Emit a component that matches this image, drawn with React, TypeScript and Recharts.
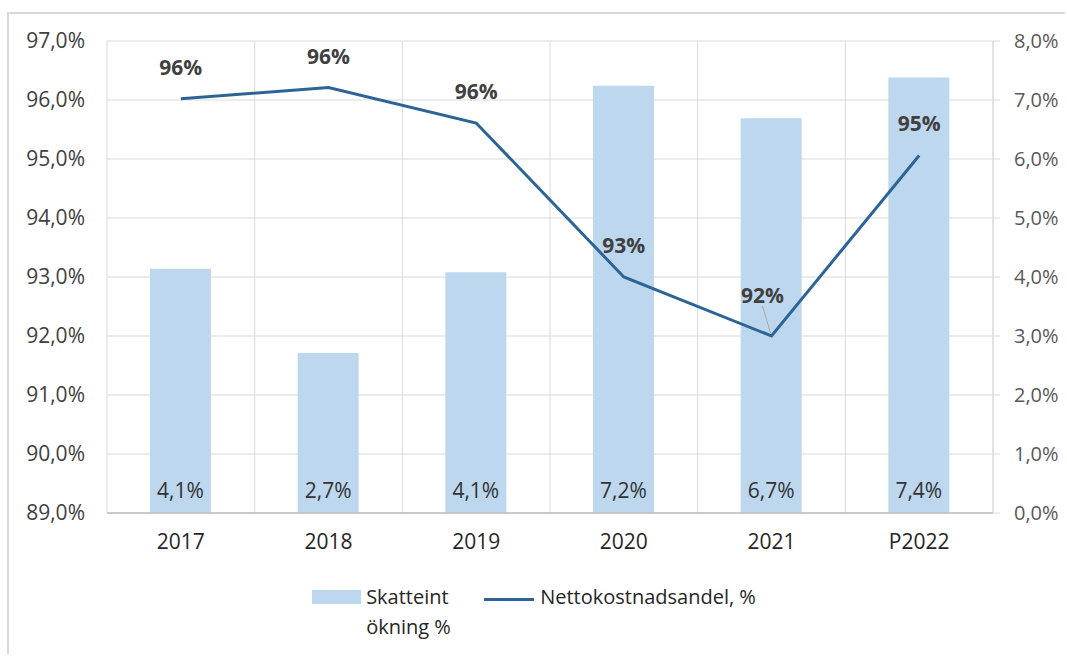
import React from "react";
import {
  ComposedChart,
  Bar,
  Line,
  XAxis,
  YAxis,
  CartesianGrid,
  Legend,
  LabelList,
} from "recharts";

const years = ["2017", "2018", "2019", "2020", "2021", "P2022"];
const skatteintOkning = [4.14, 2.71, 4.08, 7.24, 6.69, 7.38];
const nettokostnadsandel = [96.02, 96.21, 95.61, 93.0, 92.0, 95.06];
const leftTicks = [89, 90, 91, 92, 93, 94, 95, 96, 97];
const rightTicks = [0, 1, 2, 3, 4, 5, 6, 7, 8];

const data = years.map((year, i) => ({
  year,
  skatt: skatteintOkning[i],
  netto: nettokostnadsandel[i],
}));

const FONT = "'Open Sans', sans-serif";
const BAR_COLOR = "#BDD7EE";
const LINE_COLOR = "#2C6497";
const GRID = "#d9d9d9";

const pct1 = (v: number) => v.toFixed(1).replace(".", ",") + "%";

// label above each line point; the 2021 one sits as a callout with a leader line
const LineLabel = (props: any) => {
  const { x, y, value, index } = props;
  const callout = index === 4;
  const dx = callout ? -9 : 0;
  const dy = callout ? -33 : -24;
  return (
    <g>
      {callout && (
        <line x1={x - 9} y1={y - 30} x2={x - 1} y2={y - 3} stroke="#a6a6a6" strokeWidth={1} />
      )}
      <text
        x={x + dx}
        y={y + dy}
        textAnchor="middle"
        fontFamily={FONT}
        fontSize={21}
        fontWeight={700}
        fill="#404040"
      >
        {Math.round(value) + "%"}
      </text>
    </g>
  );
};

const LegendContent = () => (
  <div
    style={{
      display: "flex",
      justifyContent: "center",
      alignItems: "flex-start",
      fontFamily: FONT,
      fontSize: 20,
      color: "#262626",
    }}
  >
    <div style={{ display: "flex", alignItems: "flex-start" }}>
      <div style={{ width: 49, height: 14, background: BAR_COLOR, marginTop: 5 }} />
      <div style={{ width: 118, marginLeft: 5, lineHeight: "30px", marginTop: -3 }}>
        Skatteint
        <br />
        ökning %
      </div>
    </div>
    <div style={{ display: "flex", alignItems: "flex-start" }}>
      <div style={{ width: 50, height: 3, background: LINE_COLOR, marginTop: 13 }} />
      <div style={{ marginLeft: 6, lineHeight: "30px", marginTop: -3 }}>Nettokostnadsandel, %</div>
    </div>
  </div>
);

export default function App() {
  return (
    <div
      style={{
        position: "absolute",
        left: 7,
        top: 12,
        width: 1056,
        height: 640,
        borderLeft: `2px solid ${GRID}`,
        borderTop: `2px solid ${GRID}`,
        background: "#fff",
      }}
    >
      <ComposedChart
        width={1056}
        height={640}
        data={data}
        margin={{ top: 27, right: 6, left: 0, bottom: 9 }}
      >
        <CartesianGrid
          yAxisId="left"
          stroke={GRID}
          strokeWidth={1}
          verticalCoordinatesGenerator={({ offset }: any) =>
            Array.from({ length: years.length + 1 }, (_, i) => offset.left + (i * offset.width) / years.length)
          }
        />
        <XAxis
          dataKey="year"
          axisLine={{ stroke: "#bfbfbf", strokeWidth: 1.5 }}
          tickLine={false}
          tickSize={0}
          tickMargin={21}
          height={72}
          tick={{ fill: "#262626", fontFamily: FONT, fontSize: 21 }}
        />
        <YAxis
          yAxisId="left"
          orientation="left"
          domain={[89, 97]}
          ticks={leftTicks}
          tickFormatter={pct1}
          width={98}
          axisLine={false}
          tickLine={false}
          tickSize={0}
          tickMargin={22}
          tick={{ fill: "#404040", fontFamily: FONT, fontSize: 21 }}
          allowDataOverflow
        />
        <YAxis
          yAxisId="right"
          orientation="right"
          domain={[0, 8]}
          ticks={rightTicks}
          tickFormatter={pct1}
          width={66}
          axisLine={{ stroke: GRID }}
          tickLine={{ stroke: GRID }}
          tickSize={7}
          tickMargin={14}
          tick={{ fill: "#595959", fontFamily: FONT, fontSize: 20, textAnchor: "start" }}
        />
        <Legend verticalAlign="bottom" content={<LegendContent />} wrapperStyle={{ height: 60 }} />
        <Bar
          yAxisId="right"
          dataKey="skatt"
          name="Skatteint ökning %"
          fill={BAR_COLOR}
          barSize={61}
          isAnimationActive={false}
        >
          <LabelList
            dataKey="skatt"
            position="insideBottom"
            offset={15}
            formatter={(v: any) => pct1(Number(v))}
            style={{ fill: "#333333", fontFamily: FONT, fontSize: 21 }}
          />
        </Bar>
        <Line
          yAxisId="left"
          dataKey="netto"
          name="Nettokostnadsandel, %"
          stroke={LINE_COLOR}
          strokeWidth={3}
          dot={false}
          activeDot={false}
          isAnimationActive={false}
        >
          <LabelList dataKey="netto" content={<LineLabel />} />
        </Line>
      </ComposedChart>
    </div>
  );
}
